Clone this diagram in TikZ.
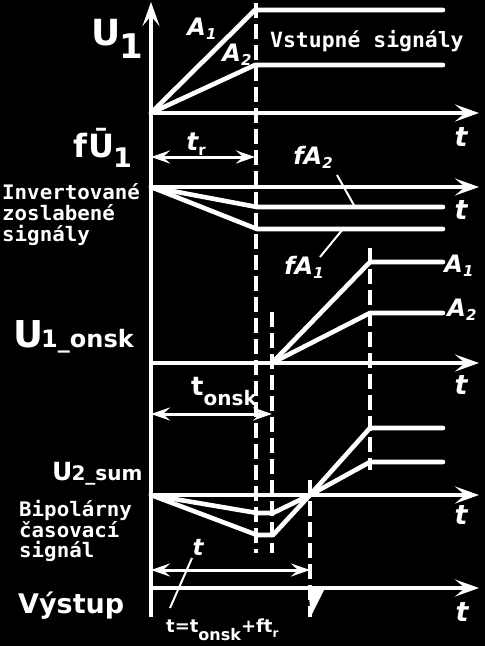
\documentclass[tikz,border=0pt]{standalone}
\usepackage{fontspec}
\setmainfont{DejaVu Sans}
\newfontfamily\monof{DejaVu Sans Mono}
\usetikzlibrary{arrows.meta}
\newcommand\fs[1]{\fontsize{#1}{#1}\selectfont}
\begin{document}
\begin{tikzpicture}[x=1pt,y=-1pt,
  ax/.style={draw=white,line width=3.4pt,-{Stealth[length=24pt,width=17pt,inset=10pt]}},
  sig/.style={draw=white,line width=4.6pt,line join=round,line cap=round},
  dsh/.style={draw=white,line width=3.2pt,dash pattern=on 15pt off 6pt},
  dim/.style={draw=white,line width=3pt,{Stealth[length=19pt,width=13pt,inset=7pt]}-{Stealth[length=19pt,width=13pt,inset=7pt]}},
  lead/.style={draw=white,line width=2pt},
  lbl/.style={text=white,inner sep=0pt},
  il/.style={lbl,font=\bfseries\itshape},
  mono/.style={lbl,font=\monof\bfseries}]
\fill[black] (0,0) rectangle (485,646);
\useasboundingbox (0,0) rectangle (485,646);
% main vertical axis
\coordinate (yb) at (151,617);
\coordinate (yt) at (151,2);
% panel 1
\coordinate (o1) at (151,113); \coordinate (e1) at (479,113);
\coordinate (a1k) at (255,10); \coordinate (a1e) at (443,10);
\coordinate (a2k) at (255,65); \coordinate (a2e) at (443,65);
% panel 2
\coordinate (trl) at (151,157); \coordinate (trr) at (255,157);
\coordinate (o2) at (151,187); \coordinate (e2) at (479,187);
\coordinate (f2k) at (257,207); \coordinate (f2e) at (443,207);
\coordinate (f1k) at (257,229); \coordinate (f1e) at (443,229);
% panel 3
\coordinate (o3) at (151,363); \coordinate (e3) at (479,363);
\coordinate (s3) at (272,363);
\coordinate (b1k) at (370,262); \coordinate (b1e) at (443,262);
\coordinate (b2k) at (370,313); \coordinate (b2e) at (443,313);
\coordinate (tol) at (151,414); \coordinate (tor) at (272,414);
% panel 4
\coordinate (o4) at (151,495); \coordinate (e4) at (479,495);
\coordinate (u1) at (257,513); \coordinate (u2) at (273,513);
\coordinate (x0) at (310,495);
\coordinate (u3) at (370,462); \coordinate (u4) at (443,462);
\coordinate (l1) at (257,535); \coordinate (l2) at (273,535);
\coordinate (l3) at (370,428); \coordinate (l4) at (443,428);
% panel 5
\coordinate (tl) at (151,570); \coordinate (tr) at (310,570);
\coordinate (o5) at (151,588); \coordinate (e5) at (479,588);
% dashed verticals
\coordinate (d1t) at (256,3);   \coordinate (d1b) at (256,553);
\coordinate (d2t) at (272,312); \coordinate (d2b) at (272,553);
\coordinate (d3t) at (370,248); \coordinate (d3b) at (370,470);
\coordinate (d4t) at (310,480); \coordinate (d4b) at (310,617);

\draw[dsh] (d1t) -- (d1b);
\draw[dsh] (d2t) -- (d2b);
\draw[dsh] (d3t) -- (d3b);
\draw[dsh] (d4t) -- (d4b);

\draw[ax] (yb) -- (yt);
\draw[ax] (o1) -- (e1);
\draw[ax] (o2) -- (e2);
\draw[ax] (o3) -- (e3);
\draw[ax] (o4) -- (e4);
\draw[ax] (o5) -- (e5);

\draw[sig] (o1) -- (a1k) -- (a1e);
\draw[sig] (o1) -- (a2k) -- (a2e);
\draw[sig] (o2) -- (f2k) -- (f2e);
\draw[sig] (o2) -- (f1k) -- (f1e);
\draw[sig] (s3) -- (b1k) -- (b1e);
\draw[sig] (s3) -- (b2k) -- (b2e);
\draw[sig] (o4) -- (u1) -- (u2) -- (x0) -- (u3) -- (u4);
\draw[sig] (o4) -- (l1) -- (l2) -- (x0) -- (l3) -- (l4);
\fill[white] (308,588) -- (324,590) -- (311,616) -- cycle;

\draw[dim] (trl) -- (trr);
\draw[dim] (tol) -- (tor);
\draw[dim] (tl) -- (tr);

% labels
\node[lbl,anchor=base west,font=\bfseries] (lU1) at (91,45) {\fs{36}U\kern-1pt\raisebox{-13pt}{\fs{34}1}};
\node[lbl,anchor=base west,font=\bfseries] (lfU) at (73,157) {\fs{32}f\kern1pt Ū\kern-1pt\raisebox{-10pt}{\fs{27}1}};
\node[mono,anchor=base west] (lin) at (270,47) {\fs{21}\scalebox{1.02}[1]{Vstupné signály}};
\node[mono,anchor=north west,align=left,font=\monof\bfseries\fs{20}] (linv) at (2,183)
  {\scalebox{1.04}[1]{Invertované}\\[1pt]\scalebox{1.04}[1]{zoslabené}\\[1pt]\scalebox{1.04}[1]{signály}};
\node[lbl,anchor=base west,font=\bfseries] (lU1o) at (13,347) {\fs{37}U\kern-2pt\fs{24}1\_onsk};
\node[lbl,anchor=base west,font=\bfseries] (lU2s) at (52,480) {\fs{25}U\kern-1pt\fs{20}2\_sum};
\node[mono,anchor=north west,align=left,font=\monof\bfseries\fs{20}] (lbip) at (19,500)
  {\scalebox{1.04}[1]{Bipolárny}\\[0pt]\scalebox{1.04}[1]{časovací}\\[0pt]\scalebox{1.04}[1]{signál}};
\node[lbl,anchor=base west,font=\bfseries\fs{27}] (lvy) at (18,613) {Výstup};

\node[il,font=\bfseries\itshape\fs{24}] (lA1) at (202,29) {A\raisebox{-4pt}{\fs{15}1}};
\node[il,font=\bfseries\itshape\fs{24}] (lA2) at (237,55) {A\raisebox{-4pt}{\fs{15}2}};
\node[il,font=\bfseries\itshape\fs{24}] (lfA2) at (313,157) {fA\raisebox{-4pt}{\fs{15}2}};
\node[il,font=\bfseries\itshape\fs{24}] (lfA1) at (304,267) {fA\raisebox{-4pt}{\fs{15}1}};
\node[il,font=\bfseries\itshape\fs{24}] (rA1) at (459,266) {A\raisebox{-4pt}{\fs{15}1}};
\node[il,font=\bfseries\itshape\fs{24}] (rA2) at (462,310) {A\raisebox{-4pt}{\fs{15}2}};
\node[il,font=\bfseries\itshape\fs{27}] (t1) at (461,137) {t};
\node[il,font=\bfseries\itshape\fs{27}] (t2) at (461,210) {t};
\node[il,font=\bfseries\itshape\fs{27}] (t3) at (461,385) {t};
\node[il,font=\bfseries\itshape\fs{27}] (t4) at (461,515) {t};
\node[il,font=\bfseries\itshape\fs{27}] (t5) at (462,612) {t};
\node[il,font=\bfseries\itshape\fs{25}] (ltr) at (196,144) {t\raisebox{-5pt}{\fs{15}\upshape r}};
\node[lbl,anchor=base west,font=\bfseries] (lto) at (191,395) {\fs{26}t\raisebox{-10pt}{\fs{20}onsk}};
\node[il,font=\bfseries\itshape\fs{23}] (lt) at (198,547) {t};
\node[lbl,anchor=base west,font=\bfseries] (lform) at (166,632)
  {\fs{18}t=t\raisebox{-8pt}{\fs{16}onsk}\fs{18}+ft\raisebox{-5pt}{\fs{12}r}};

% leaders
\coordinate (ld2a) at (337,175); \coordinate (ld2b) at (355,207);
\coordinate (ld1a) at (320,257); \coordinate (ld1b) at (343,229);
\coordinate (ldta) at (170,608); \coordinate (ldtb) at (192,558);
\draw[lead] (ld2a) -- (ld2b);
\draw[lead] (ld1a) -- (ld1b);
\draw[lead] (ldta) -- (ldtb);
\end{tikzpicture}
\end{document}
